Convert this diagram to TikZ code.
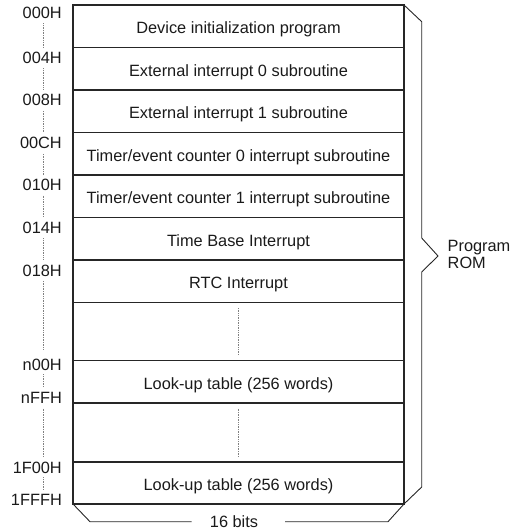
\documentclass[tikz,border=0pt]{standalone}
\usepackage{fontspec}
\setmainfont{Liberation Sans}
\definecolor{linec}{HTML}{262626}
\definecolor{textc}{HTML}{1A1A1A}
\begin{document}
\begin{tikzpicture}[x=1bp,y=-1bp,
  txt/.style={font=\fontsize{16.4}{17}\selectfont, text=textc},
  cell/.style={txt, draw=linec, line width=1.3bp, minimum width=331bp, inner sep=0pt, outer sep=0pt, text height=14.7bp, text depth=0bp},
  addr/.style={txt, anchor=base east, inner sep=0pt},
  dots/.style={draw=gray, line width=0.8bp, dash pattern=on 0.8bp off 0.9bp},
  brace/.style={draw=linec, line width=0.9bp, line join=miter}
]
\useasboundingbox (0,0) rectangle (514,530);

% memory cells
\node[cell, minimum height=42.5bp] (r1) at (238.5,26.25) {Device initialization program};
\node[cell, minimum height=42.5bp] (r2) at (238.5,68.75) {External interrupt 0 subroutine};
\node[cell, minimum height=42.5bp] (r3) at (238.5,111.25) {External interrupt 1 subroutine};
\node[cell, minimum height=42.5bp] (r4) at (238.5,153.75) {Timer/event counter 0 interrupt subroutine};
\node[cell, minimum height=42.5bp] (r5) at (238.5,196.25) {Timer/event counter 1 interrupt subroutine};
\node[cell, minimum height=42.5bp] (r6) at (238.5,238.75) {Time Base Interrupt};
\node[cell, minimum height=42.5bp] (r7) at (238.5,281.25) {RTC Interrupt};
\node[cell, minimum height=58bp] (b1) at (238.5,331.5) {};
\node[cell, minimum height=42.5bp] (l1) at (238.5,381.75) {Look-up table (256 words)};
\node[cell, minimum height=59bp] (b2) at (238.5,432.5) {};
\node[cell, minimum height=42bp] (l2) at (238.5,483) {Look-up table (256 words)};

% continuation dots inside blank cells
\draw[dots] ([yshift=-5.5bp]b1.north) -- ([yshift=5bp]b1.south);
\draw[dots] ([yshift=-5.5bp]b2.north) -- ([yshift=5bp]b2.south);

% addresses
\node[addr] (a0) at (62,18.3) {000H};
\node[addr] (a1) at (62,63.3) {004H};
\node[addr] (a2) at (62,106) {008H};
\node[addr] (a3) at (62,149) {00CH};
\node[addr] (a4) at (62,190.8) {010H};
\node[addr] (a5) at (62,233.3) {014H};
\node[addr] (a6) at (62,276) {018H};
\node[addr] (a7) at (62,370.8) {n00H};
\node[addr] (a8) at (62,403.3) {nFFH};
\node[addr] (a9) at (62,473.4) {1F00H};
\node[addr] (a10) at (62,505.6) {1FFFH};

\coordinate (dx) at (43.3,0);
\draw[dots] ([yshift=-4.5bp]a0.south -| dx) -- ([yshift=4.5bp]a1.north -| dx);
\draw[dots] ([yshift=-4.5bp]a1.south -| dx) -- ([yshift=4.5bp]a2.north -| dx);
\draw[dots] ([yshift=-4.5bp]a2.south -| dx) -- ([yshift=4.5bp]a3.north -| dx);
\draw[dots] ([yshift=-4.5bp]a3.south -| dx) -- ([yshift=4.5bp]a4.north -| dx);
\draw[dots] ([yshift=-4.5bp]a4.south -| dx) -- ([yshift=4.5bp]a5.north -| dx);
\draw[dots] ([yshift=-4.5bp]a5.south -| dx) -- ([yshift=4.5bp]a6.north -| dx);
\draw[dots] ([yshift=-4.5bp]a6.south -| dx) -- ([yshift=10bp]a7.north -| dx);
\draw[dots] ([yshift=-3bp]a7.south -| dx) -- ([yshift=4.5bp]a8.north -| dx);
\draw[dots] ([yshift=-5bp]a8.south -| dx) -- ([yshift=4.5bp]a9.north -| dx);
\draw[dots] ([yshift=-3.5bp]a9.south -| dx) -- ([yshift=4.5bp]a10.north -| dx);

% right brace: Program ROM
\coordinate (bt) at (421.7,21.7);
\coordinate (bk1) at (421.7,238);
\coordinate (bk) at (438,256);
\coordinate (bk2) at (421.7,272);
\coordinate (bb) at (421.7,487);
\draw[brace] (r1.north east) -- (bt) -- (bk1) -- (bk) -- (bk2) -- (bb) -- (l2.south east);
\node[txt, anchor=west, align=left, inner sep=0pt] (rom) at (447.5,254) {Program\\ROM};

% bottom brace: 16 bits
\node[txt, inner sep=0pt] (bits) at (234,521.5) {16 bits};
\coordinate (bl) at (90,521.7);
\coordinate (br) at (388,521.7);
\draw[brace] (l2.south west) -- (bl) -- (bl -| 191.7,0);
\draw[brace] (br -| 285,0) -- (br) -- (l2.south east);
\end{tikzpicture}
\end{document}
